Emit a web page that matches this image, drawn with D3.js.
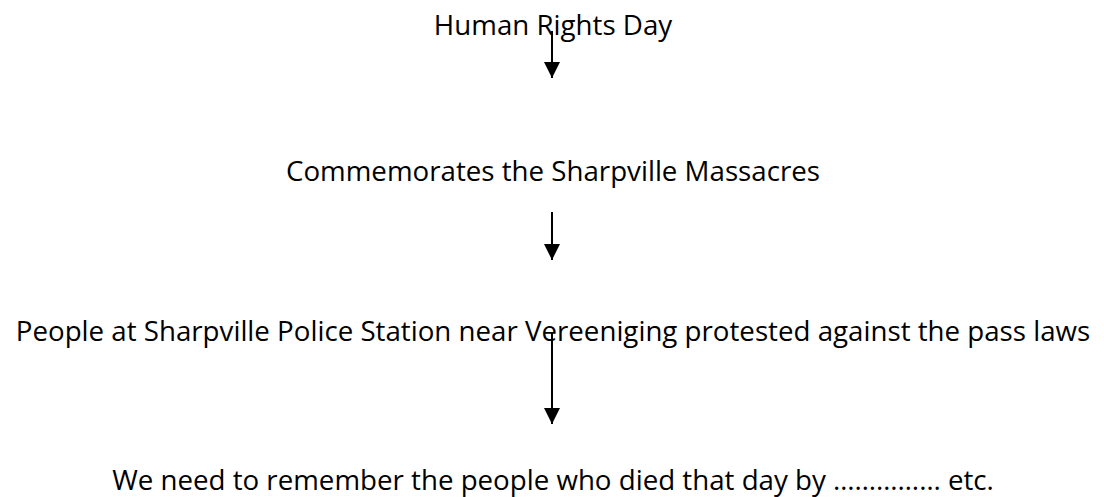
<!DOCTYPE html>
<html>
<head>
<meta charset="utf-8">
<script src="https://cdn.jsdelivr.net/npm/d3@7"></script>
<style>
  html, body { margin: 0; padding: 0; background: #fff; }
</style>
</head>
<body>
<div id="flow"></div>
<script>
// the four steps of the flow, top to bottom
const steps = [
	"Human Rights Day",
	"Commemorates the Sharpville Massacres",
	"People at Sharpville Police Station near Vereeniging protested against the pass laws",
	"We need to remember the people who died that day by \u2026\u2026\u2026\u2026\u2026 etc."
];
// arrows go from step i to step i+1
const links = [[0, 1], [1, 2], [2, 3]];

const width = 1104, height = 497;

const svg = d3.select("#flow")
	.append("svg")
	.attr("width", width)
	.attr("height", height);

// baseline of each text row and start/end of each arrow
const baseline = d3.scaleOrdinal().domain(d3.range(steps.length)).range([35, 181, 341, 490]);
const arrowTop = d3.scaleOrdinal().domain(d3.range(links.length)).range([31, 212, 332]);
const arrowTip = d3.scaleOrdinal().domain(d3.range(links.length)).range([78, 260, 424]);
const cx = 552;

svg.append("defs").append("marker")
	.attr("id", "head")
	.attr("viewBox", "0 0 16 16")
	.attr("refX", 16)
	.attr("refY", 8)
	.attr("markerWidth", 16)
	.attr("markerHeight", 16)
	.attr("markerUnits", "userSpaceOnUse")
	.attr("orient", "auto")
	.append("path")
	.attr("d", "M0,0 L16,8 L0,16 Z")
	.attr("fill", "#000");

svg.append("g")
	.selectAll("text")
	.data(steps)
	.enter()
	.append("text")
	.attr("x", width / 2 + 1)
	.attr("y", (d, i) => baseline(i))
	.attr("text-anchor", "middle")
	.attr("font-family", "'Open Sans', sans-serif")
	.attr("font-size", "27.7px")
	.attr("fill", "#000")
	.text(d => d);

svg.append("g")
	.selectAll("line")
	.data(links)
	.enter()
	.append("line")
	.attr("x1", cx)
	.attr("x2", cx)
	.attr("y1", (d, i) => arrowTop(i))
	.attr("y2", (d, i) => arrowTip(i))
	.attr("stroke", "#000")
	.attr("stroke-width", 2)
	.attr("marker-end", "url(#head)");
</script>
</body>
</html>
